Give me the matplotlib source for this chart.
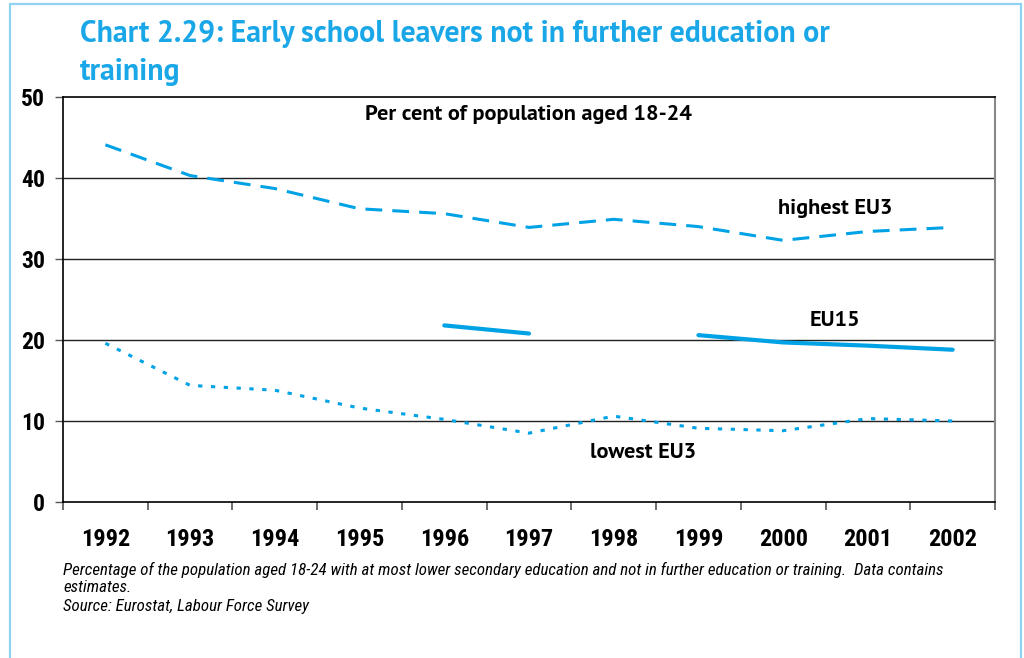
import matplotlib
matplotlib.use("Agg")
import matplotlib.pyplot as plt
import numpy as np
from matplotlib.patches import Rectangle

years = ["1992", "1993", "1994", "1995", "1996", "1997", "1998", "1999", "2000", "2001", "2002"]
highest_eu3 = [44.1, 40.3, 38.7, 36.2, 35.6, 33.9, 34.9, 34.0, 32.3, 33.4, 33.9]
eu15 = [None, None, None, None, 21.8, 20.8, None, 20.6, 19.7, 19.3, 18.8]
lowest_eu3 = [19.6, 14.4, 13.8, 11.6, 10.2, 8.5, 10.6, 9.1, 8.8, 10.3, 10.0]
yticks = [0, 10, 20, 30, 40, 50]

BLUE = "#00A2E6"
TITLE_BLUE = "#1AA7E8"
BORDER = "#8ED3F2"

cond = ["Roboto Condensed", "DejaVu Sans"]
humanist = ["PT Sans", "Open Sans", "DejaVu Sans"]

fig = plt.figure(figsize=(10.24, 6.58), dpi=100)
ax = fig.add_axes([63/1024, 1-502/658, (995-63)/1024, (502-97)/658])

x = np.arange(len(years))
hi = np.array(highest_eu3, dtype=float)
eu = np.array([np.nan if v is None else v for v in eu15], dtype=float)
lo = np.array(lowest_eu3, dtype=float)

l1, = ax.plot(x, hi, color=BLUE, lw=2.2, dash_capstyle="butt")
l1.set_dashes((5.5, 3.3))
ax.plot(x, eu, color=BLUE, lw=3.0, solid_capstyle="round")
l3, = ax.plot(x, lo, color=BLUE, lw=2.2, dash_capstyle="butt")
l3.set_dashes((1.4, 2.8))

ax.set_xlim(-0.5, len(years) - 0.5)
ax.set_ylim(0, 50)
ax.set_yticks(yticks)
for v in yticks[1:-1]:
    ax.axhline(v, color="#222222", lw=1.0, zorder=0)

ax.set_xticks(np.arange(-0.5, len(years), 1.0))
ax.set_xticklabels([])
ax.set_xticks(x, minor=True)
ax.set_xticklabels(years, minor=True)
ax.tick_params(axis="x", which="major", direction="out", length=6, width=1.2, color="#555555")
ax.tick_params(axis="x", which="minor", length=0, pad=19)
ax.tick_params(axis="y", direction="out", length=6, width=1.0, color="#555555", pad=7)

for lab in ax.get_xticklabels(minor=True):
    lab.set_fontfamily(cond)
    lab.set_fontweight("bold")
    lab.set_fontsize(17.5)
for lab in ax.get_yticklabels():
    lab.set_fontfamily(cond)
    lab.set_fontweight("bold")
    lab.set_fontsize(17)

for s in ["left", "top", "bottom"]:
    ax.spines[s].set_color("black")
    ax.spines[s].set_linewidth(1.2)
ax.spines["right"].set_color("#888888")
ax.spines["right"].set_linewidth(1.5)

lab_font = dict(fontfamily=humanist, fontweight="bold", fontsize=16, color="black")
fig.text(528/1024, 1-115/658, "Per cent of population aged 18-24", ha="center", va="center", **lab_font)
fig.text(835/1024, 1-208/658, "highest EU3", ha="center", va="center", **lab_font)
fig.text(835/1024, 1-321/658, "EU15", ha="center", va="center", **lab_font)
fig.text(643/1024, 1-453/658, "lowest EU3", ha="center", va="center", **lab_font)

title_font = dict(fontfamily=humanist, fontweight="bold", fontsize=21.5, color=TITLE_BLUE)
fig.text(80/1024, 1-34/658, "Chart 2.29: Early school leavers not in further education or", ha="left", va="center", **title_font)
fig.text(80/1024, 1-72/658, "training", ha="left", va="center", **title_font)

foot_font = dict(fontfamily=cond, fontstyle="italic", fontsize=12.2, color="black")
fig.text(63/1024, 1-570/658, "Percentage of the population aged 18-24 with at most lower secondary education and not in further education or training.  Data contains", ha="left", va="center", **foot_font)
fig.text(63/1024, 1-588/658, "estimates.", ha="left", va="center", **foot_font)
fig.text(63/1024, 1-606/658, "Source: Eurostat, Labour Force Survey", ha="left", va="center", **foot_font)

fig.patches.append(Rectangle((10/1024, -0.01), (1021-10)/1024, 1-4/658 + 0.01, transform=fig.transFigure,
                             fill=False, edgecolor=BORDER, lw=1.6))

fig.savefig("out.png", dpi=100)
